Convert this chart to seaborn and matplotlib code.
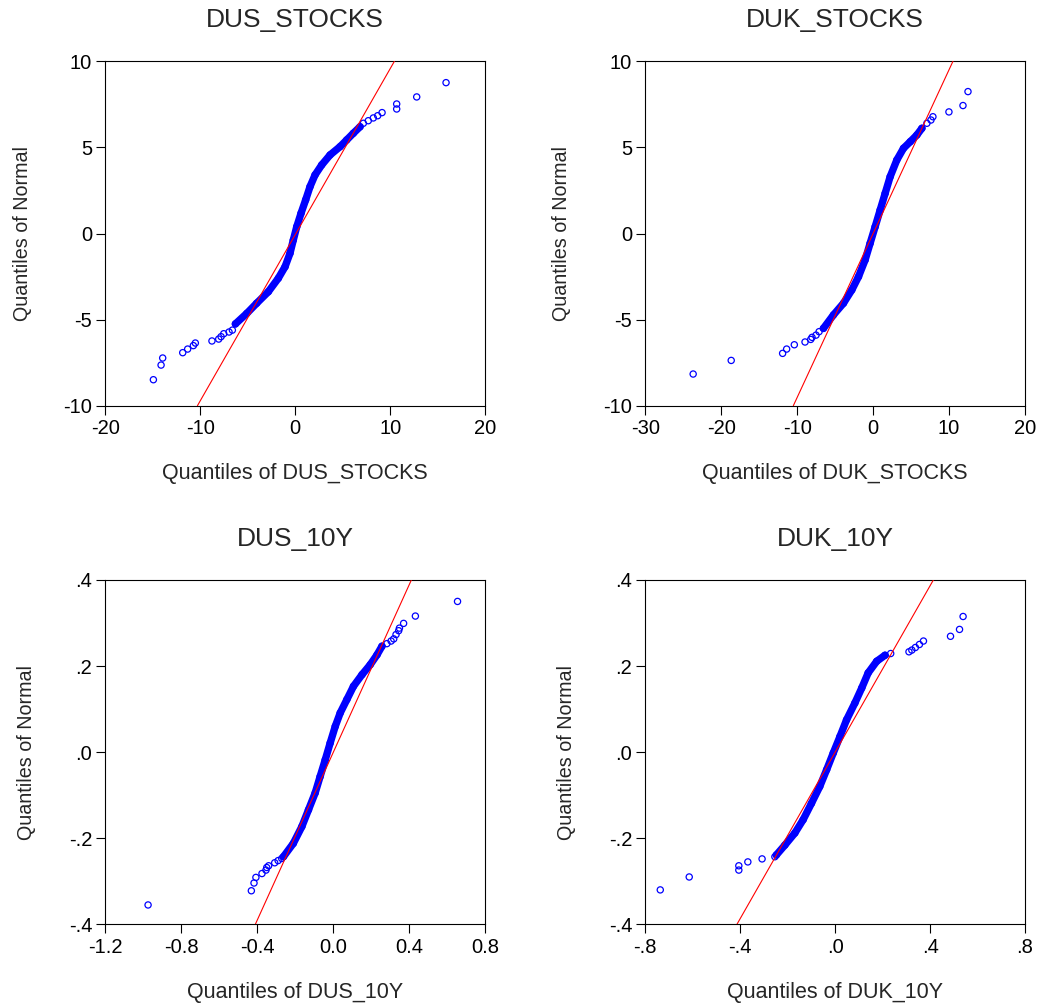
import numpy as np
import pandas as pd
import matplotlib
matplotlib.use("Agg")
import matplotlib.pyplot as plt
import seaborn as sns

# values (x = sample quantile, y = normal quantile)
series_names = ["DUS_STOCKS", "DUK_STOCKS", "DUS_10Y", "DUK_10Y"]

# DUS_STOCKS
dus_stocks_band_x = [-6.3, -5.1, -4.06, -2.83, -1.78, -1.07, -0.55, -0.20, 0.16, 0.61, 1.10,
                     1.56, 2.09, 2.79, 3.67, 4.72, 5.42, 6.12, 6.83]
dus_stocks_band_y = [-5.25, -4.64, -4.05, -3.38, -2.60, -1.93, -1.15, -0.38, 0.39, 1.17, 1.95,
                     2.72, 3.40, 3.98, 4.56, 5.04, 5.43, 5.82, 6.20]
dus_stocks_tail_x = [-14.94, -14.13, -13.96, -11.85, -11.33, -10.73, -10.52, -8.77, -8.06, -7.81,
                     -7.53, -6.97, -6.62, 7.18, 7.70, 8.23, 8.69, 9.15, 10.69, 10.69, 12.80, 15.89]
dus_stocks_tail_y = [-8.49, -7.64, -7.23, -6.92, -6.71, -6.51, -6.36, -6.24, -6.13, -5.99,
                     -5.82, -5.72, -5.61, 6.40, 6.55, 6.71, 6.84, 7.02, 7.23, 7.52, 7.93, 8.76]
dus_stocks_ref_x = [-10.3, 10.45]
dus_stocks_ref_y = [-10.0, 10.0]

# DUK_STOCKS
duk_stocks_band_x = [-6.55, -5.23, -3.91, -2.81, -1.93, -1.06, -0.40, 0.26, 0.92, 1.58, 2.24,
                     3.12, 4.0, 4.88, 5.76, 6.42]
duk_stocks_band_y = [-5.51, -4.73, -4.05, -3.28, -2.51, -1.54, -0.57, 0.39, 1.36, 2.33, 3.30,
                     4.27, 4.95, 5.33, 5.72, 6.11]
duk_stocks_tail_x = [-23.70, -18.69, -11.92, -11.39, -10.38, -8.97, -8.22, -8.05, -7.52, -7.12,
                     7.08, 7.61, 7.87, 9.98, 11.83, 12.49]
duk_stocks_tail_y = [-8.16, -7.37, -6.96, -6.71, -6.46, -6.30, -6.15, -6.03, -5.90, -5.70,
                     6.40, 6.59, 6.78, 7.06, 7.43, 8.24]
duk_stocks_ref_x = [-10.51, 10.51]
duk_stocks_ref_y = [-10.0, 10.0]

# DUS_10Y
dus_10y_band_x = [-0.262, -0.210, -0.165, -0.130, -0.095, -0.069, -0.042, -0.016, 0.011, 0.037,
                  0.072, 0.107, 0.152, 0.195, 0.231, 0.257]
dus_10y_band_y = [-0.243, -0.212, -0.173, -0.134, -0.095, -0.057, -0.018, 0.021, 0.060, 0.091,
                  0.122, 0.153, 0.180, 0.203, 0.226, 0.246]
dus_10y_tail_x = [-0.975, -0.431, -0.417, -0.407, -0.375, -0.354, -0.350, -0.340, -0.308, -0.290,
                  -0.271, 0.283, 0.305, 0.319, 0.331, 0.345, 0.349, 0.371, 0.433, 0.655]
dus_10y_tail_y = [-0.355, -0.322, -0.304, -0.291, -0.282, -0.274, -0.268, -0.264, -0.257, -0.252,
                  -0.247, 0.252, 0.258, 0.263, 0.273, 0.282, 0.288, 0.299, 0.316, 0.350]
dus_10y_ref_x = [-0.410, 0.412]
dus_10y_ref_y = [-0.4, 0.4]

# DUK_10Y
duk_10y_band_x = [-0.248, -0.212, -0.170, -0.135, -0.100, -0.065, -0.036, -0.008, 0.020, 0.048,
                  0.083, 0.112, 0.139, 0.175, 0.210]
duk_10y_band_y = [-0.239, -0.216, -0.188, -0.157, -0.119, -0.080, -0.041, -0.002, 0.036, 0.075,
                  0.114, 0.149, 0.184, 0.211, 0.225]
duk_10y_tail_x = [-0.737, -0.615, -0.406, -0.406, -0.368, -0.308, -0.254, 0.234, 0.311, 0.323,
                  0.338, 0.355, 0.372, 0.486, 0.524, 0.539]
duk_10y_tail_y = [-0.320, -0.290, -0.274, -0.264, -0.255, -0.248, -0.243, 0.229, 0.233, 0.237,
                  0.243, 0.250, 0.258, 0.269, 0.285, 0.315]
duk_10y_ref_x = [-0.414, 0.414]
duk_10y_ref_y = [-0.4, 0.4]

# axis ticks
stocks_y_ticks = [-10, -5, 0, 5, 10]
stocks_y_labels = ["-10", "-5", "0", "5", "10"]
dus_stocks_x_ticks = [-20, -10, 0, 10, 20]
dus_stocks_x_labels = ["-20", "-10", "0", "10", "20"]
duk_stocks_x_ticks = [-30, -20, -10, 0, 10, 20]
duk_stocks_x_labels = ["-30", "-20", "-10", "0", "10", "20"]
yield_y_ticks = [-0.4, -0.2, 0.0, 0.2, 0.4]
yield_y_labels = ["-.4", "-.2", ".0", ".2", ".4"]
dus_10y_x_ticks = [-1.2, -0.8, -0.4, 0.0, 0.4, 0.8]
dus_10y_x_labels = ["-1.2", "-0.8", "-0.4", "0.0", "0.4", "0.8"]
duk_10y_x_ticks = [-0.8, -0.4, 0.0, 0.4, 0.8]
duk_10y_x_labels = ["-.8", "-.4", ".0", ".4", ".8"]

sns.set_style("white")
plt.rcParams['font.family'] = ['Liberation Sans', 'DejaVu Sans']
plt.rcParams['axes.unicode_minus'] = False

BLUE = "#0000FF"
RED = "#FF0000"

panels = [
    dict(name="DUS_STOCKS", bx=dus_stocks_band_x, by=dus_stocks_band_y, tx=dus_stocks_tail_x,
         ty=dus_stocks_tail_y, rx=dus_stocks_ref_x, ry=dus_stocks_ref_y, xlim=(-20, 20), ylim=(-10, 10),
         xt=dus_stocks_x_ticks, xl=dus_stocks_x_labels, yt=stocks_y_ticks, yl=stocks_y_labels,
         pos=[0.1013, 0.5975, 0.3651, 0.3417], ylab=-0.219),
    dict(name="DUK_STOCKS", bx=duk_stocks_band_x, by=duk_stocks_band_y, tx=duk_stocks_tail_x,
         ty=duk_stocks_tail_y, rx=duk_stocks_ref_x, ry=duk_stocks_ref_y, xlim=(-30, 20), ylim=(-10, 10),
         xt=duk_stocks_x_ticks, xl=duk_stocks_x_labels, yt=stocks_y_ticks, yl=stocks_y_labels,
         pos=[0.6205, 0.5975, 0.3651, 0.3417], ylab=-0.221),
    dict(name="DUS_10Y", bx=dus_10y_band_x, by=dus_10y_band_y, tx=dus_10y_tail_x,
         ty=dus_10y_tail_y, rx=dus_10y_ref_x, ry=dus_10y_ref_y, xlim=(-1.2, 0.8), ylim=(-0.4, 0.4),
         xt=dus_10y_x_ticks, xl=dus_10y_x_labels, yt=yield_y_ticks, yl=yield_y_labels,
         pos=[0.1013, 0.0830, 0.3651, 0.3417], ylab=-0.207),
    dict(name="DUK_10Y", bx=duk_10y_band_x, by=duk_10y_band_y, tx=duk_10y_tail_x,
         ty=duk_10y_tail_y, rx=duk_10y_ref_x, ry=duk_10y_ref_y, xlim=(-0.8, 0.8), ylim=(-0.4, 0.4),
         xt=duk_10y_x_ticks, xl=duk_10y_x_labels, yt=yield_y_ticks, yl=yield_y_labels,
         pos=[0.6205, 0.0830, 0.3651, 0.3417], ylab=-0.207),
]

fig = plt.figure(figsize=(10.4, 10.08), dpi=100)

for p in panels:
    ax = fig.add_axes(p["pos"])
    band = pd.DataFrame({"x": p["bx"], "y": p["by"]})
    tail = pd.DataFrame({"x": p["tx"], "y": p["ty"]})
    ref = pd.DataFrame({"x": p["rx"], "y": p["ry"]})

    # dense central run of overlapping circles
    sns.lineplot(data=band, x="x", y="y", ax=ax, sort=False, estimator=None,
                 color=BLUE, linewidth=5.3, solid_capstyle="round",
                 solid_joinstyle="round", zorder=2)
    pts = pd.concat([band, tail], ignore_index=True)
    sns.scatterplot(data=pts, x="x", y="y", ax=ax, marker="o", s=20,
                    facecolor="none", edgecolor=BLUE, linewidth=0.9, zorder=3)
    sns.lineplot(data=ref, x="x", y="y", ax=ax, sort=False, estimator=None,
                 color=RED, linewidth=0.8, zorder=4)

    ax.set_xlim(*p["xlim"])
    ax.set_ylim(*p["ylim"])
    ax.set_xticks(p["xt"])
    ax.set_xticklabels(p["xl"])
    ax.set_yticks(p["yt"])
    ax.set_yticklabels(p["yl"])
    ax.tick_params(direction="out", length=6.5, width=0.8, labelsize=14.5,
                   colors="black", bottom=True, left=True, pad=3)
    for sp in ax.spines.values():
        sp.set_visible(True)
        sp.set_color("black")
        sp.set_linewidth(0.8)

    ax.set_xlabel(f"Quantiles of {p['name']}", fontsize=15.5)
    ax.set_ylabel("Quantiles of Normal", fontsize=14.2)
    ax.xaxis.set_label_coords(0.5, -0.197)
    ax.yaxis.set_label_coords(p["ylab"], 0.5)
    ax.xaxis.label.set_va("center")
    ax.yaxis.label.set_va("center")
    ax.text(0.5, 1.119, p["name"], transform=ax.transAxes, ha="center", va="center",
            fontsize=19)

fig.savefig("out.png", dpi=100)
